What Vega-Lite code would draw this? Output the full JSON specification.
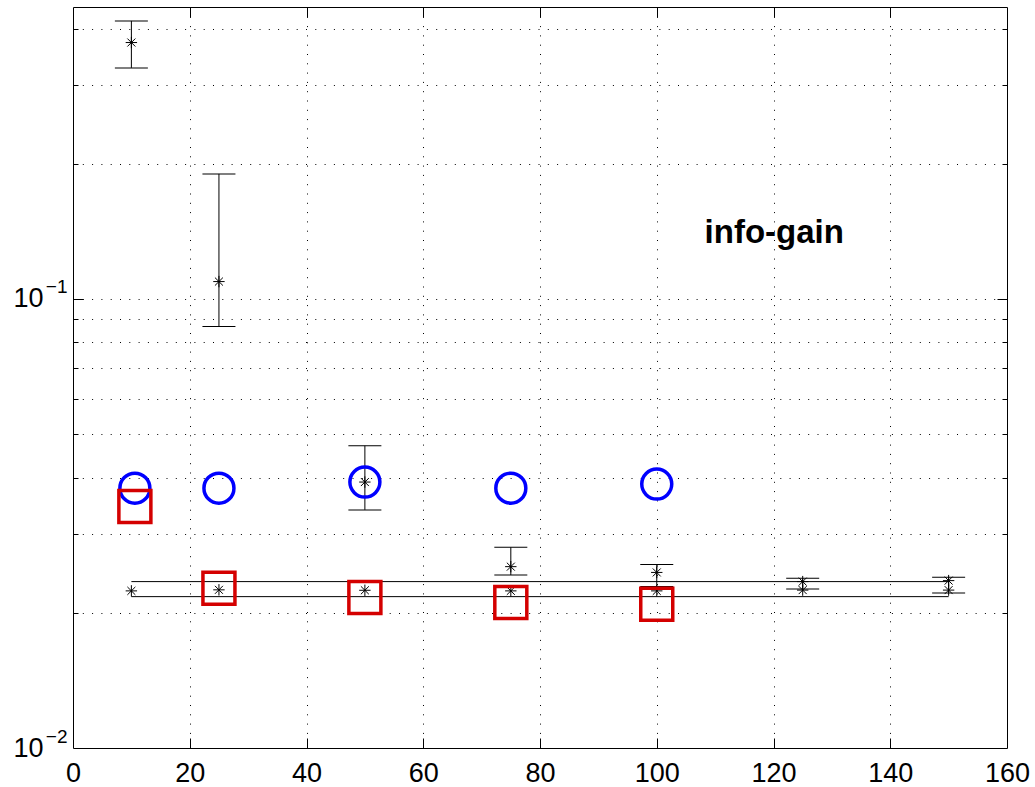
{
  "$schema": "https://vega.github.io/schema/vega-lite/v6.json",
  "width": 934,
  "height": 741,
  "autosize": {"type": "none"},
  "padding": {"left": 73, "top": 7, "right": 28, "bottom": 39},
  "background": "white",
  "config": {
    "view": {"stroke": "black", "strokeWidth": 1},
    "axis": {"labelFont": "Liberation Sans", "labelFontSize": 27, "labelColor": "black", "domain": false, "title": null, "tickColor": "black", "tickWidth": 1, "gridColor": "black", "gridOpacity": 1, "gridWidth": 1, "gridDash": [1, 8.3]}
  },
  "datasets": {
    "err": [
      {"x": 10, "y": 0.3723, "lo": 0.3269, "hi": 0.4159},
      {"x": 25, "y": 0.1093, "lo": 0.0868, "hi": 0.1898},
      {"x": 50, "y": 0.0391, "lo": 0.0339, "hi": 0.0471},
      {"x": 75, "y": 0.02534, "lo": 0.02428, "hi": 0.02799},
      {"x": 100, "y": 0.0246, "lo": 0.02288, "hi": 0.02561},
      {"x": 125, "y": 0.02347, "lo": 0.0226, "hi": 0.02388},
      {"x": 150, "y": 0.02359, "lo": 0.02215, "hi": 0.024}
    ],
    "base": [
      {"x": 10, "y": 0.02238}, {"x": 25, "y": 0.0225}, {"x": 50, "y": 0.02245},
      {"x": 75, "y": 0.02238}, {"x": 100, "y": 0.02238}, {"x": 125, "y": 0.02247}, {"x": 150, "y": 0.02247}
    ],
    "band": [
      {"x": 10, "y": 0.02347, "s": "hi"}, {"x": 150, "y": 0.02347, "s": "hi"},
      {"x": 10, "y": 0.02173, "s": "lo"}, {"x": 150, "y": 0.02173, "s": "lo"}
    ],
    "circles": [
      {"x": 10.6, "y": 0.0379}, {"x": 25, "y": 0.0379}, {"x": 50, "y": 0.0391}, {"x": 75, "y": 0.0379}, {"x": 100, "y": 0.0387}
    ],
    "squares": [
      {"x": 10.6, "y": 0.0345}, {"x": 25, "y": 0.02267}, {"x": 50, "y": 0.02163}, {"x": 75, "y": 0.02108}, {"x": 100, "y": 0.02089}
    ],
    "label": [{"x": 108.2, "y": 0.1335, "t": "info-gain"}]
  },
  "layer": [
    {
      "data": {"name": "band"},
      "mark": {"type": "line", "color": "black", "strokeWidth": 1},
      "encoding": {
        "x": {"field": "x", "type": "quantitative", "scale": {"domain": [0, 160], "nice": false, "zero": false},
              "axis": {"orient": "bottom", "values": [0, 20, 40, 60, 80, 100, 120, 140, 160], "ticks": false, "grid": false, "labelPadding": 12, "labelFlush": false}},
        "y": {"field": "y", "type": "quantitative", "scale": {"type": "log", "domain": [0.01, 0.4467], "nice": false},
              "axis": {"orient": "left", "values": [0.01, 0.1], "ticks": false, "grid": false, "labelPadding": 30, "labelFlush": false, "labelExpr": "'10'"}},
        "detail": {"field": "s"}
      }
    },
    {
      "data": {"name": "err"},
      "mark": {"type": "rule", "color": "black", "strokeWidth": 1},
      "encoding": {
        "x": {"field": "x", "type": "quantitative", "scale": {"domain": [0, 160], "nice": false, "zero": false},
              "axis": {"orient": "bottom", "values": [20, 40, 60, 80, 100, 120, 140], "labels": false, "ticks": true, "tickSize": -10, "grid": true}},
        "y": {"field": "lo", "type": "quantitative", "scale": {"type": "log", "domain": [0.01, 0.4467], "nice": false},
              "axis": {"orient": "left", "values": [0.1], "labels": false, "ticks": true, "tickSize": -10, "grid": false}},
        "y2": {"field": "hi"}
      }
    },
    {
      "data": {"name": "err"},
      "mark": {"type": "tick", "orient": "horizontal", "size": 33, "thickness": 1, "color": "black", "opacity": 1},
      "encoding": {
        "x": {"field": "x", "type": "quantitative", "scale": {"domain": [0, 160], "nice": false, "zero": false},
              "axis": {"orient": "top", "values": [20, 40, 60, 80, 100, 120, 140], "labels": false, "ticks": true, "tickSize": -10, "grid": false}},
        "y": {"field": "lo", "type": "quantitative", "scale": {"type": "log", "domain": [0.01, 0.4467], "nice": false},
              "axis": {"orient": "left", "values": [0.02, 0.03, 0.04, 0.05, 0.06, 0.07, 0.08, 0.09, 0.1, 0.2, 0.3, 0.4], "labels": false, "ticks": true, "tickSize": -5, "grid": true}}
      }
    },
    {
      "data": {"name": "err"},
      "mark": {"type": "tick", "orient": "horizontal", "size": 33, "thickness": 1, "color": "black", "opacity": 1},
      "encoding": {
        "x": {"field": "x", "type": "quantitative", "scale": {"domain": [0, 160], "nice": false, "zero": false}, "axis": null},
        "y": {"field": "hi", "type": "quantitative", "scale": {"type": "log", "domain": [0.01, 0.4467], "nice": false},
              "axis": {"orient": "right", "values": [0.1], "labels": false, "ticks": true, "tickSize": -10, "grid": false}}
      }
    },
    {
      "data": {"name": "err"},
      "mark": {"type": "point", "shape": "M-1,0L1,0M0,-1L0,1M-0.7,-0.7L0.7,0.7M-0.7,0.7L0.7,-0.7", "size": 130, "filled": false, "stroke": "black", "strokeWidth": 1, "opacity": 1},
      "encoding": {
        "x": {"field": "x", "type": "quantitative", "scale": {"domain": [0, 160], "nice": false, "zero": false}, "axis": null},
        "y": {"field": "y", "type": "quantitative", "scale": {"type": "log", "domain": [0.01, 0.4467], "nice": false},
              "axis": {"orient": "right", "values": [0.02, 0.03, 0.04, 0.05, 0.06, 0.07, 0.08, 0.09, 0.2, 0.3, 0.4], "labels": false, "ticks": true, "tickSize": -5, "grid": false}}
      }
    },
    {
      "data": {"name": "base"},
      "mark": {"type": "point", "shape": "M-1,0L1,0M0,-1L0,1M-0.7,-0.7L0.7,0.7M-0.7,0.7L0.7,-0.7", "size": 130, "filled": false, "stroke": "black", "strokeWidth": 1, "opacity": 1},
      "encoding": {
        "x": {"field": "x", "type": "quantitative", "scale": {"domain": [0, 160], "nice": false, "zero": false}, "axis": null},
        "y": {"field": "y", "type": "quantitative", "scale": {"type": "log", "domain": [0.01, 0.4467], "nice": false},
              "axis": {"orient": "left", "values": [0.01, 0.1], "ticks": false, "grid": false, "labelPadding": 6, "labelFontSize": 19, "labelOffset": -12, "labelFlush": false, "labelExpr": "datum.value < 0.05 ? '−2' : '−1'"}}
      }
    },
    {
      "data": {"name": "circles"},
      "mark": {"type": "point", "shape": "circle", "size": 900, "filled": false, "stroke": "#0000ff", "strokeWidth": 3.5, "opacity": 1},
      "encoding": {
        "x": {"field": "x", "type": "quantitative", "scale": {"domain": [0, 160], "nice": false, "zero": false}, "axis": null},
        "y": {"field": "y", "type": "quantitative", "scale": {"type": "log", "domain": [0.01, 0.4467], "nice": false}, "axis": null}
      }
    },
    {
      "data": {"name": "squares"},
      "mark": {"type": "point", "shape": "square", "size": 1024, "filled": false, "stroke": "#d40000", "strokeWidth": 3.5, "opacity": 1},
      "encoding": {
        "x": {"field": "x", "type": "quantitative", "scale": {"domain": [0, 160], "nice": false, "zero": false}, "axis": null},
        "y": {"field": "y", "type": "quantitative", "scale": {"type": "log", "domain": [0.01, 0.4467], "nice": false}, "axis": null}
      }
    },
    {
      "data": {"name": "label"},
      "mark": {"type": "text", "font": "Liberation Sans", "fontWeight": "bold", "fontSize": 33, "align": "left", "baseline": "alphabetic", "color": "black"},
      "encoding": {
        "x": {"field": "x", "type": "quantitative", "scale": {"domain": [0, 160], "nice": false, "zero": false}, "axis": null},
        "y": {"field": "y", "type": "quantitative", "scale": {"type": "log", "domain": [0.01, 0.4467], "nice": false}, "axis": null},
        "text": {"field": "t"}
      }
    }
  ],
  "resolve": {"axis": {"x": "independent", "y": "independent"}}
}
